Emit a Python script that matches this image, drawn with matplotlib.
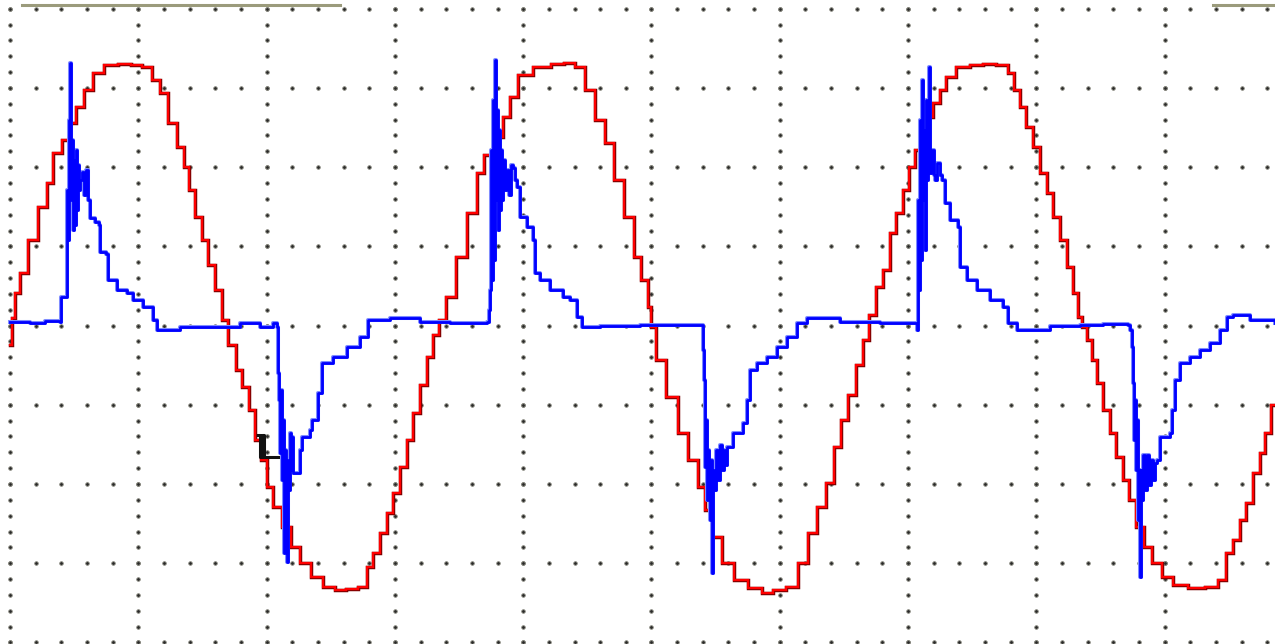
import numpy as np
import matplotlib
matplotlib.use("Agg")
import matplotlib.pyplot as plt
import matplotlib.patheffects as pe

# ---- data: time in ms (5 ms/div), amplitude in divisions ----
red_t = [0.00, 0.12, 0.27, 0.51, 0.90, 1.29, 1.56, 1.83, 2.22, 2.42, 2.73, 3.04, 3.39, 3.90, 4.48, 4.95,
         5.34, 5.73, 5.96, 6.35, 6.70, 6.90, 7.09, 7.33, 7.60, 7.87, 8.11, 8.38, 8.65, 8.96, 9.16, 9.43,
         9.66, 9.94, 10.13, 10.40, 10.79, 11.11, 11.50, 11.96, 12.47, 12.86, 13.33, 13.76, 14.03, 14.30,
         14.54, 14.81, 15.08, 15.32, 15.59, 15.86, 16.13, 16.37, 16.60, 16.87, 17.15, 17.61, 18.00, 18.39,
         18.59, 19.02, 19.37, 19.60, 19.99, 20.77, 21.36, 21.82, 22.21, 22.60, 22.99, 23.38, 23.69, 24.16,
         24.47, 24.75, 24.94, 25.06, 25.33, 25.80, 26.23, 26.62, 26.97, 27.20, 27.55, 27.98, 28.45, 29.11,
         29.50, 30.01, 30.51, 30.90, 31.29, 31.64, 31.96, 32.23, 32.54, 32.81, 33.12, 33.36, 33.63, 33.90,
         34.18, 34.41, 34.68, 34.96, 35.15, 35.38, 35.66, 35.85, 36.13, 36.36, 36.63, 37.14, 37.68, 38.19,
         38.70, 39.05, 39.24, 39.48, 39.75, 40.02, 40.26, 40.53, 40.80, 41.04, 41.31, 41.58, 41.70, 41.89,
         42.09, 42.28, 42.48, 42.75, 42.98, 43.26, 43.53, 43.72, 44.04, 44.35, 44.70, 45.09, 45.59, 46.26,
         46.88, 47.27, 47.54, 47.82, 48.05, 48.32, 48.59, 48.83, 49.02, 49.30]
red_v = [-0.25, 0.09, 0.41, 0.66, 1.08, 1.50, 1.80, 2.18, 2.34, 2.56, 2.76, 2.97, 3.19, 3.29, 3.30, 3.29,
         3.26, 3.10, 2.94, 2.56, 2.25, 2.00, 1.71, 1.37, 1.08, 0.76, 0.45, 0.07, -0.25, -0.56, -0.78, -1.07,
         -1.45, -1.70, -2.04, -2.29, -2.54, -2.80, -3.00, -3.18, -3.30, -3.34, -3.33, -3.30, -3.05, -2.87,
         -2.62, -2.37, -2.11, -1.79, -1.45, -1.10, -0.75, -0.40, -0.12, 0.07, 0.36, 0.86, 1.42, 1.93,
         2.15, 2.38, 2.63, 2.88, 3.16, 3.26, 3.30, 3.31, 3.26, 2.97, 2.59, 2.30, 1.84, 1.37,
         0.86, 0.57, 0.23, -0.02, -0.44, -0.90, -1.36, -1.70, -2.04, -2.33, -2.67, -3.00, -3.21, -3.31,
         -3.38, -3.34, -3.30, -3.00, -2.62, -2.29, -1.99, -1.53, -1.19, -0.88, -0.50, -0.18, 0.13, 0.49,
         0.70, 1.17, 1.42, 1.71, 2.00, 2.22, 2.43, 2.63, 2.81, 2.97, 3.14, 3.26, 3.29, 3.30,
         3.29, 3.19, 2.97, 2.76, 2.51, 2.25, 1.93, 1.67, 1.37, 1.08, 0.74, 0.41, 0.11, -0.02,
         -0.18, -0.44, -0.73, -1.07, -1.36, -1.66, -1.95, -2.20, -2.54, -2.80, -3.00, -3.18, -3.28, -3.31,
         -3.30, -3.21, -2.87, -2.71, -2.46, -2.24, -1.86, -1.61, -1.36, -1.00]

blue_t = [0.00, 0.78, 1.36, 1.95, 1.99, 2.18, 2.22, 2.26, 2.30, 2.34, 2.38, 2.42, 2.46, 2.49, 2.53, 2.57,
          2.61, 2.65, 2.69, 2.73, 2.81, 2.88, 2.96, 3.04, 3.12, 3.31, 3.47, 3.51, 3.74, 3.82, 4.17, 4.56,
          4.79, 5.18, 5.57, 5.73, 6.62, 7.91, 8.96, 9.74, 10.25, 10.40,
          10.44, 10.48, 10.52, 10.56, 10.60, 10.64, 10.68, 10.72, 10.76, 10.79, 10.83, 10.87, 10.91, 10.95,
          10.99, 11.03, 11.22, 11.30, 11.38, 11.69, 11.77, 12.00, 12.16, 12.59, 13.13, 13.64, 13.95, 14.81,
          15.98, 17.15, 18.59,
          18.67, 18.71, 18.75, 18.78, 18.82, 18.86, 18.90, 18.94, 18.98, 19.02, 19.06, 19.10, 19.13, 19.17,
          19.21, 19.29, 19.37, 19.45, 19.52, 19.60, 19.68, 19.76, 19.87, 20.15, 20.38, 20.46, 20.65, 21.04,
          21.55, 21.82, 22.10, 22.29, 22.99, 24.55, 26.97,
          27.01, 27.05, 27.08, 27.12, 27.16, 27.20, 27.24, 27.28, 27.32, 27.36, 27.40, 27.43, 27.51, 27.59,
          27.67, 27.75, 27.82, 27.90, 27.94, 28.18, 28.57, 28.72, 28.84, 29.11, 29.50, 29.89, 30.28, 30.67,
          31.07, 32.35, 33.90, 35.27,
          35.35, 35.39, 35.42, 35.46, 35.50, 35.54, 35.58, 35.62, 35.66, 35.70, 35.74, 35.77, 35.81, 35.85,
          35.93, 36.01, 36.05, 36.13, 36.24, 36.32, 36.44, 36.63, 36.94, 37.02, 37.29, 37.68, 38.19, 38.70,
          38.89, 39.24, 40.53, 41.70, 42.59, 43.57,
          43.65, 43.72, 43.76, 43.80, 43.84, 43.88, 43.92, 43.96, 44.00, 44.04, 44.07, 44.11, 44.15, 44.23,
          44.31, 44.38, 44.46, 44.54, 44.62, 44.70, 44.81, 45.20, 45.28, 45.40, 45.59, 45.98, 46.37, 46.76,
          47.15, 47.43, 47.66, 48.32, 49.30]
blue_v = [0.04, 0.03, 0.06, 0.04, 0.36, 0.36, 1.71, 1.08, 2.59, 3.31, 1.58, 2.34, 1.21, 2.09, 1.27, 2.22,
          1.46, 2.03, 1.71, 1.84, 1.94, 1.65, 1.96, 1.58, 1.36, 1.31, 1.27, 0.93, 0.90, 0.57, 0.45, 0.41,
          0.32, 0.23, 0.07, -0.06, -0.02, -0.02, 0.03, -0.02, 0.03, -0.02,
          -0.60, -0.94, -1.61, -0.81, -1.95, -1.19, -2.87, -1.57, -2.20, -2.99, -1.70, -2.08, -1.36, -1.82,
          -1.41, -1.86, -1.86, -1.57, -1.41, -1.32, -1.19, -0.85, -0.47, -0.40, -0.27, -0.15, 0.07, 0.09,
          0.04, 0.03, 0.04,
          0.20, 0.45, 2.22, 0.57, 2.85, 0.83, 3.35, 1.58, 2.72, 1.21, 2.47, 1.46, 2.22, 1.58,
          2.09, 1.71, 1.96, 1.65, 2.03, 1.99, 1.84, 1.75, 1.37, 1.24, 1.08, 0.66, 0.57, 0.45,
          0.36, 0.32, 0.11, -0.02, -0.01, 0.01, 0.01,
          -0.31, -0.69, -1.79, -1.19, -2.20, -1.57, -1.95, -2.46, -1.70, -3.12, -1.82, -2.08, -1.57, -1.95,
          -1.51, -1.82, -1.57, -1.76, -1.53, -1.36, -1.23, -0.94, -0.56, -0.47, -0.40, -0.27, -0.15, 0.03,
          0.09, 0.04, 0.03, 0.03,
          -0.06, 1.58, 0.45, 2.59, 0.83, 3.10, 1.58, 2.47, 0.95, 2.85, 1.84, 2.34, 3.26, 1.93,
          2.22, 1.90, 1.84, 2.05, 1.90, 1.84, 1.55, 1.33, 1.24, 0.74, 0.57, 0.45, 0.32, 0.23,
          0.03, -0.06, -0.01, 0.01, 0.02, 0.01,
          -0.06, -0.27, -0.73, -1.45, -0.94, -1.82, -1.19, -2.46, -1.82, -3.17, -1.82, -2.20, -1.64, -2.08,
          -1.64, -2.01, -1.70, -1.95, -1.73, -1.70, -1.41, -1.36, -1.07, -0.69, -0.47, -0.40, -0.31, -0.22,
          -0.06, 0.11, 0.13, 0.07, 0.03]

black_t = [9.66, 9.74, 9.74, 9.82, 9.90, 10.02, 10.44]
black_v = [-1.38, -1.38, -1.66, -1.38, -1.66, -1.66, -1.66]

# ---- figure ----
W, H, DPI = 1275, 644, 100
fig = plt.figure(figsize=(W / DPI, H / DPI), dpi=DPI, facecolor="white")
ax = fig.add_axes([0, 0, 1, 1])
ax.set_facecolor("white")
ax.set_xlim(-0.39, 49.30)
ax.set_ylim(-4.02, 4.11)
for s in ax.spines.values():
    s.set_visible(False)
ax.set_xticks([])
ax.set_yticks([])

# oscilloscope dotted graticule
major_t = np.arange(0, 50, 5)
major_v = np.arange(-4, 5, 1)
minor_t = np.arange(0, 50.01, 1.0)
minor_v = np.arange(-4, 4.01, 0.2)
gx, gy = [], []
for v in major_v:
    gx.extend(minor_t)
    gy.extend([v] * len(minor_t))
for t in major_t:
    gx.extend([t] * len(minor_v))
    gy.extend(minor_v)
ax.plot(gx, gy, linestyle="none", marker="o", markersize=2.6,
        markerfacecolor="#2a2a2a", markeredgecolor="#8a8a80", markeredgewidth=0.6, zorder=1)

# traces
ax.plot(red_t, red_v, drawstyle="steps-mid", color="#ff0000", linewidth=1.6, zorder=3,
        solid_joinstyle="miter",
        path_effects=[pe.Stroke(linewidth=2.5, foreground="#7a0000"), pe.Normal()])
ax.plot(blue_t, blue_v, drawstyle="steps-post", color="#0000ff", linewidth=2.0, zorder=4,
        path_effects=[pe.Stroke(linewidth=2.9, foreground="#7f8cff"), pe.Normal()])
ax.plot(black_t, black_v, drawstyle="steps-post", color="#111111", linewidth=2.2, zorder=3)

# cut-off label underlines at the top edge
fig.add_artist(plt.Line2D([22 / W, 340 / W], [1 - 5 / H, 1 - 5 / H], color="#9b9b7c", linewidth=2.2))
fig.add_artist(plt.Line2D([1213 / W, 1.0], [1 - 5 / H, 1 - 5 / H], color="#9b9b7c", linewidth=2.2))

fig.savefig("out.png", dpi=DPI, facecolor="white")
